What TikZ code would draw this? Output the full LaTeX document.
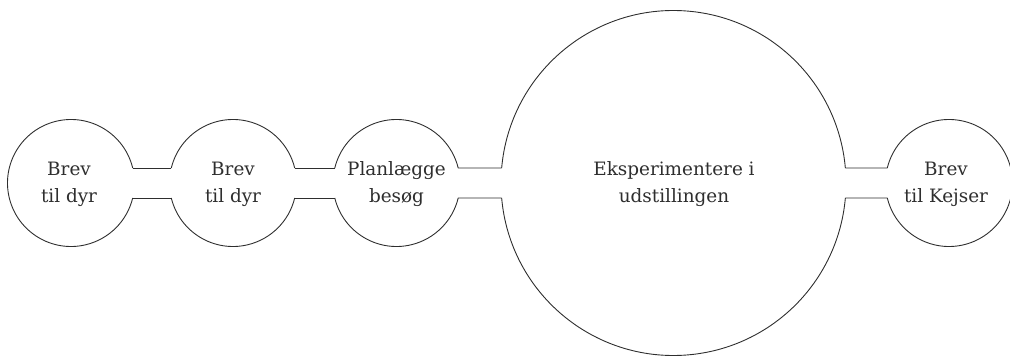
\documentclass[tikz,border=0pt]{standalone}
\usepackage{fontspec}
\setmainfont{DejaVu Serif}
\definecolor{ink}{HTML}{2E2E2E}
\begin{document}
\begin{tikzpicture}[x=1pt,y=1pt,
  bubble/.style={circle,draw=none,inner sep=0pt,outer sep=0pt,minimum size=#1},
  outline/.style={draw=ink,line width=0.9pt},
  txt/.style={align=center,text=ink,inner sep=0pt,font=\fontsize{18.4}{27}\selectfont}]
\useasboundingbox (0,0) rectangle (1010,357);
\def\rs{63.5}
\def\rb{172.5}
% centers: y = 357-183 = 174
\node[bubble=127pt] (c1) at (71,174) {};
\node[bubble=127pt] (c2) at (233,174) {};
\node[bubble=127pt] (c3) at (396.5,174) {};
\node[bubble=345pt] (c4) at (673.5,174) {};
\node[bubble=127pt] (c5) at (949,174) {};
% small: asin(15/63.5)=13.66 ; big: asin(15/172.5)=4.99
% outlines
\draw[outline] ([shift={(13.66:\rs)}]c1.center) arc[start angle=13.66, end angle=346.34, radius=\rs];
\draw[outline] ([shift={(166.34:\rs)}]c2.center) arc[start angle=166.34, end angle=13.66, radius=\rs];
\draw[outline] ([shift={(193.66:\rs)}]c2.center) arc[start angle=193.66, end angle=346.34, radius=\rs];
\draw[outline] ([shift={(166.34:\rs)}]c3.center) arc[start angle=166.34, end angle=13.66, radius=\rs];
\draw[outline] ([shift={(193.66:\rs)}]c3.center) arc[start angle=193.66, end angle=346.34, radius=\rs];
\draw[outline] ([shift={(175.01:\rb)}]c4.center) arc[start angle=175.01, end angle=4.99, radius=\rb];
\draw[outline] ([shift={(184.99:\rb)}]c4.center) arc[start angle=184.99, end angle=355.01, radius=\rb];
\draw[outline] ([shift={(166.34:\rs)}]c5.center) arc[start angle=166.34, end angle=-166.34, radius=\rs];
% connectors
\draw[outline] ([shift={(13.66:\rs)}]c1.center) -- ([shift={(166.34:\rs)}]c2.center);
\draw[outline] ([shift={(-13.66:\rs)}]c1.center) -- ([shift={(193.66:\rs)}]c2.center);
\draw[outline] ([shift={(13.66:\rs)}]c2.center) -- ([shift={(166.34:\rs)}]c3.center);
\draw[outline] ([shift={(-13.66:\rs)}]c2.center) -- ([shift={(193.66:\rs)}]c3.center);
\draw[outline] ([shift={(13.66:\rs)}]c3.center) -- ([shift={(175.01:\rb)}]c4.center);
\draw[outline] ([shift={(-13.66:\rs)}]c3.center) -- ([shift={(184.99:\rb)}]c4.center);
\draw[outline] ([shift={(4.99:\rb)}]c4.center) -- ([shift={(166.34:\rs)}]c5.center);
\draw[outline] ([shift={(-4.99:\rb)}]c4.center) -- ([shift={(193.66:\rs)}]c5.center);
% texts
\node[txt] (t1) at (69,173) {Brev\\til dyr};
\node[txt] (t2) at (233,173) {Brev\\til dyr};
\node[txt] (t3) at (396.5,173) {Planlægge\\besøg};
\node[txt] (t4) at (674,173) {Eksperimentere i\\udstillingen};
\node[txt] (t5) at (946,173) {Brev\\til Kejser};
\end{tikzpicture}
\end{document}
